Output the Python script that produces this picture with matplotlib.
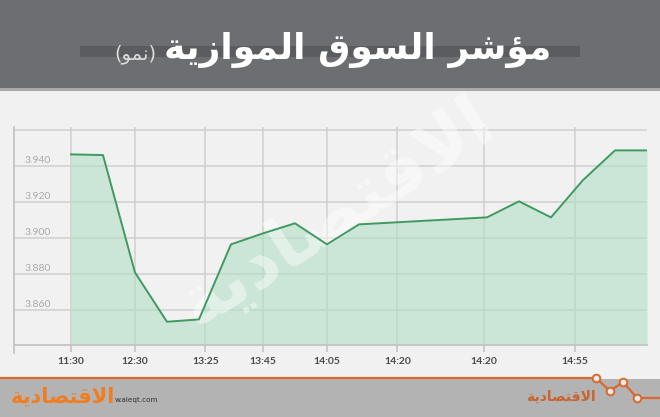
import matplotlib
matplotlib.use("Agg")
import matplotlib.pyplot as plt
from matplotlib.patches import Rectangle

# ── Data ──────────────────────────────────────────────────────────────────────
slots = [0, 1, 2, 3, 4, 5, 6, 7, 8, 9, 13, 14, 15, 16, 17, 18]
index_vals = [3.9465, 3.9461, 3.8809, 3.8535, 3.8548, 3.8965, 3.9026, 3.9082,
              3.8965, 3.9076, 3.9115, 3.9204, 3.9115, 3.9322, 3.9487, 3.9487]
tick_slots = [0, 2, 4.2, 6, 8, 10.2, 12.9, 15.75]
tick_labels = ["11:30", "12:30", "13:25", "13:45", "14:05", "14:20", "14:20", "14:55"]
y_grid = [3.84, 3.86, 3.88, 3.90, 3.92, 3.94, 3.96]
y_labels = [3.86, 3.88, 3.90, 3.92, 3.94]

# Arabic text in visual order, presentation forms (matplotlib has no shaping)
title_main = ("\uFE94\uFEF3\uFEAF\uFE8D\uFEEE\uFEE4\uFEDF\uFE8D "
              "\uFED5\uFEEE\uFEB4\uFEDF\uFE8D "
              "\uFEAE\uFEB7\uFE86\uFEE3")
title_sub = "(\uFEEE\uFEE4\uFEE7)"
logo = "\uFE94\uFEF3\uFEA9\uFE8E\uFEBC\uFE98\uFED7\uFEFB\uFE8D"

# ── Colours ───────────────────────────────────────────────────────────────────
BG = "#f1f1f1"
HEADER = "#6d6e71"
FOOTER = "#b3b3b3"
ORANGE = "#d8692f"
LINE = "#3f9a60"
FILL = "#b3dfc4"
GRID = "#d2d2d2"

W, H = 660, 417
fig = plt.figure(figsize=(W / 100, H / 100), dpi=100, facecolor=BG)

# background layer in pixel coordinates
bg = fig.add_axes([0, 0, 1, 1], zorder=0)
bg.set_xlim(0, W)
bg.set_ylim(H, 0)
bg.axis("off")
bg.add_patch(Rectangle((0, 0), W, 88, color=HEADER, lw=0))
bg.add_patch(Rectangle((0, 88), W, 3, color="#a9a9ab", lw=0))
bg.add_patch(Rectangle((80, 46), 500, 11, color="#5b5c5f", lw=0))
bg.text(358, 50, title_main, ha="center", va="center", color="white",
        fontsize=26, fontweight="bold", family="DejaVu Sans")
bg.text(135, 54, title_sub, ha="center", va="center", color="#dcdcdc",
        fontsize=14, family="DejaVu Sans")

# footer
bg.add_patch(Rectangle((0, 379), W, H - 379, color=FOOTER, lw=0))
zig_x = [0, 596, 610, 623, 637, 660]
zig_y = [378, 378, 391, 382, 398, 398]
bg.plot(zig_x, zig_y, color=ORANGE, lw=1.6, solid_joinstyle="round")
bg.plot(zig_x[1:5], zig_y[1:5], "o", ms=5.5, mfc="#e9e9e9", mec=ORANGE, mew=1.4)
bg.text(63, 396, logo, ha="center", va="center", color="#f07d22",
        fontsize=15, fontweight="bold", family="DejaVu Sans")
bg.text(115, 400, "w.aleqt.com", ha="left", va="center", color="#333333",
        fontsize=5.2, family="DejaVu Sans")
bg.text(561, 397, logo, ha="center", va="center", color="#c8642f",
        fontsize=10, fontweight="bold", family="DejaVu Sans")

# ── Chart ─────────────────────────────────────────────────────────────────────
x0, x1, ytop, ybot = 14, 647, 127, 345
ax = fig.add_axes([x0 / W, 1 - ybot / H, (x1 - x0) / W, (ybot - ytop) / H], zorder=2)
ax.set_facecolor("none")
ax.set_xlim(-1.78, 18)
ax.set_ylim(3.8406, 3.9617)

for v in y_grid:
    ax.axhline(v, color=GRID, lw=1.2, zorder=1)
for t in tick_slots:
    ax.axvline(t, color=GRID, lw=1.2, zorder=1)

ax.fill_between(slots, index_vals, 3.8406, color=FILL, alpha=0.6, lw=0, zorder=2)
ax.plot(slots, index_vals, color=LINE, lw=1.4, zorder=4)

ax.text(0.51, 0.60, logo, transform=ax.transAxes, rotation=33, ha="center",
        va="center", color="white", alpha=0.45, fontsize=52, fontweight="bold",
        family="DejaVu Sans", zorder=3)

for s in ["top", "right"]:
    ax.spines[s].set_visible(False)
ax.spines["left"].set_color("#c4c4c4")
ax.spines["bottom"].set_color("#c4c4c4")
ax.spines["left"].set_linewidth(1.3)
ax.spines["bottom"].set_linewidth(1.3)
ax.plot([0, 0], [-0.035, 0], transform=ax.transAxes, color="#c4c4c4",
        lw=1.3, clip_on=False)

ax.set_xticks(tick_slots)
ax.set_xticklabels(tick_labels, fontsize=7.5, fontweight="bold", color="#4a4a4a",
                   family="Lato")
ax.tick_params(axis="x", length=5, width=1.2, color="#c4c4c4", pad=3.5)
ax.set_yticks([])

for v in y_labels:
    ax.annotate(f"{v:.3f}", xy=(0.016, v), xycoords=("axes fraction", "data"),
                xytext=(0, 1), textcoords="offset points", ha="left", va="bottom",
                fontsize=7.5, color="#aaaaaa", family="Lato")

fig.savefig("out.png", dpi=100, facecolor=BG)
